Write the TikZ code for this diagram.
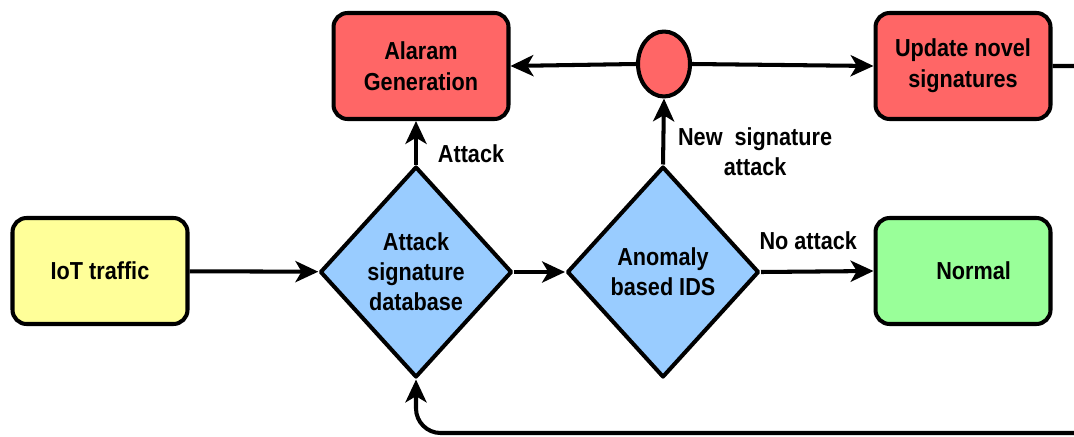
\documentclass[tikz,border=0pt]{standalone}
\usepackage{fontspec}
\setmainfont{Liberation Sans}[FakeStretch=0.88]
\usetikzlibrary{arrows.meta,shapes.geometric}

\definecolor{alarmred}{HTML}{FF6666}
\definecolor{trafficyellow}{HTML}{FFFF99}
\definecolor{checkblue}{HTML}{99CCFF}
\definecolor{normalgreen}{HTML}{99FF99}

\tikzset{
    procbox/.style={draw,line width=2.3pt,rounded corners=8pt,minimum width=3.5cm,
        minimum height=2.12cm,align=center,font=\bfseries\fontsize{14}{17.5}\selectfont},
    checkbox/.style={draw,diamond,line width=2.3pt,fill=checkblue,inner sep=0pt,
        minimum width=3.84cm,minimum height=4.22cm,align=center,
        font=\bfseries\fontsize{14}{17}\selectfont},
    flow/.style={line width=2.3pt,-{Stealth[length=13pt,width=12pt,inset=3.5pt]}},
    flowlabel/.style={align=center,font=\bfseries\fontsize{14}{17}\selectfont},
}

\begin{document}
\begin{tikzpicture}[x=0.02cm,y=-0.02cm,line join=round]
    \useasboundingbox (0,0) rectangle (1074,436);
    \clip (0,0) rectangle (1074,436);
    \fill[white] (0,0) rectangle (1074,436);
    % boxes
    \node[procbox,fill=alarmred] (alarm) at (421,66) {Alaram\\Generation};
    \node[procbox,fill=alarmred] (update) at (963,66) {Update novel\\signatures};
    \node[procbox,fill=trafficyellow] (traffic) at (100,271) {IoT traffic};
    \node[procbox,fill=normalgreen] (normal) at (963,271) {\hspace{12pt}Normal};
    \node[draw,ellipse,line width=2.3pt,fill=alarmred,minimum width=1.04cm,minimum height=1.3cm] (junction) at (664,64) {};
    % decisions
    \node[checkbox] (sigdb) at (416,272) {Attack\\signature\\database};
    \node[checkbox] (anomaly) at (663,272) {Anomaly\\based IDS};
    % flows
    \draw[flow] (traffic) -- (sigdb);
    \draw[flow] (sigdb) -- (anomaly);
    \draw[flow] (sigdb.north) -- (sigdb.north |- alarm.south) node[flowlabel,pos=0.25,right=8pt] {Attack};
    \draw[flow] (anomaly.north) -- (junction.south) node[flowlabel,pos=0.2,right=4pt] {New\ \ signature\\attack};
    \draw[flow] (anomaly.east) -- (normal.west) node[flowlabel,pos=0.42,above=8pt] {No attack};
    \draw[flow] (junction.west) -- (alarm.east);
    \draw[flow] (junction.east) -- (update.west);
    \draw[flow,rounded corners=14pt] (update.east) -- (1100,66) -- (1100,433) -- (416,433) -- (sigdb.south);
\end{tikzpicture}
\end{document}
